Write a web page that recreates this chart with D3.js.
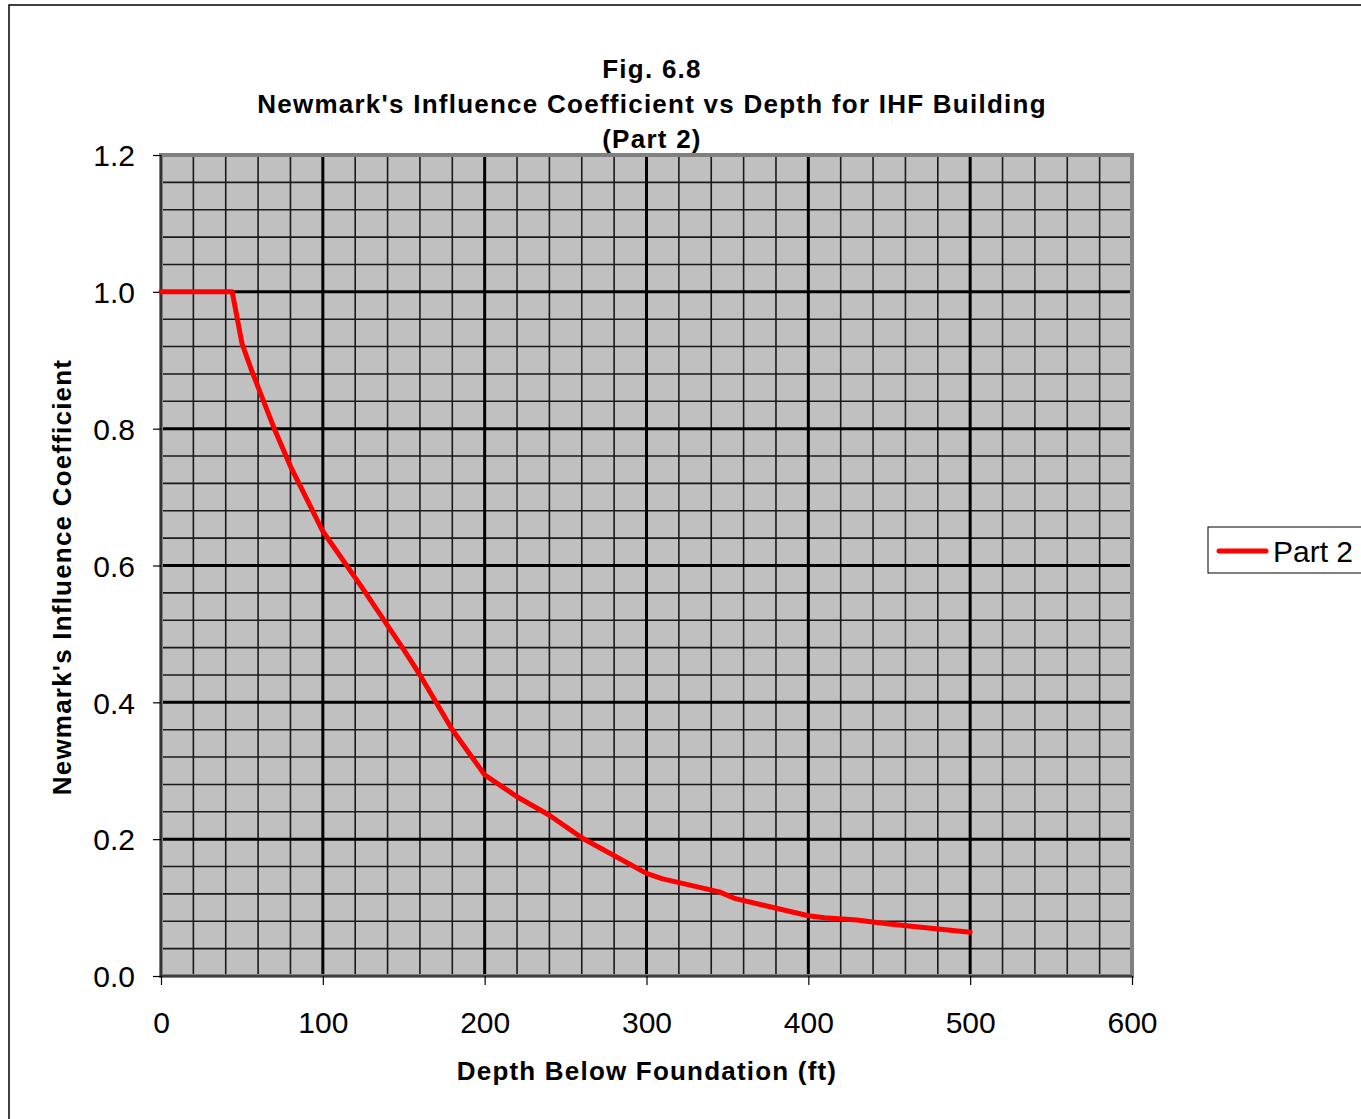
<!DOCTYPE html>
<html lang="en">
<head>
<meta charset="UTF-8">
<title>Fig. 6.8</title>
<script src="https://d3js.org/d3.v7.min.js"></script>
<style>
    body { margin: 0; background: #fff; font-family: "Liberation Sans", Arial, sans-serif; }
    svg { display: block; }
    .tick-label { font-size: 30px; fill: #000; }
    .title { font-size: 26px; font-weight: bold; letter-spacing: 1.25px; fill: #000; }
    .axis-title { font-size: 26px; font-weight: bold; letter-spacing: 1.2px; fill: #000; }
</style>
</head>
<body>
<svg id="chart" width="1361" height="1119"></svg>
<script>
// data
const depth = [0, 44, 50, 56, 70, 80, 100, 125, 150, 160, 180, 200, 220, 240, 260, 270, 300, 310, 345, 355, 400, 410, 430, 450, 500];
const coeff = [1.0, 1.0, 0.925, 0.885, 0.80, 0.745, 0.65, 0.565, 0.477, 0.44, 0.36, 0.294, 0.262, 0.235, 0.202, 0.189, 0.15, 0.142, 0.123, 0.113, 0.088, 0.085, 0.082, 0.076, 0.064];
const xTicks = [0, 100, 200, 300, 400, 500, 600];
const yTicks = [0, 0.2, 0.4, 0.6, 0.8, 1.0, 1.2];
const seriesName = 'Part 2';
const titleLines = ['Fig. 6.8', "Newmark's Influence Coefficient vs Depth for IHF Building", '(Part 2)'];

const svg = d3.select('#chart');

// outer chart frame
svg.append('rect')
    .attr('x', 9).attr('y', 5)
    .attr('width', 1400).attr('height', 1200)
    .attr('fill', '#fff').attr('stroke', '#000').attr('stroke-width', 1.5);

const plot = { left: 161, right: 1132, top: 155, bottom: 976 };

const x = d3.scaleLinear().domain([0, 600]).range([plot.left, plot.right]);
const y = d3.scaleLinear().domain([0, 1.2]).range([plot.bottom, plot.top]);

// plot background
svg.append('rect')
    .attr('x', plot.left).attr('y', plot.top)
    .attr('width', plot.right - plot.left).attr('height', plot.bottom - plot.top)
    .attr('fill', '#c0c0c0');

const grid = svg.append('g');

// minor grid
grid.selectAll('.vminor')
    .data(d3.range(0, 601, 20).filter(v => v % 100 !== 0))
    .enter().append('line')
    .attr('x1', d => x(d)).attr('x2', d => x(d))
    .attr('y1', plot.top).attr('y2', plot.bottom)
    .attr('stroke', '#1a1a1a').attr('stroke-width', 1.6);

grid.selectAll('.hminor')
    .data(d3.range(0, 31).map(i => i * 0.04).filter((v, i) => i % 5 !== 0))
    .enter().append('line')
    .attr('x1', plot.left).attr('x2', plot.right)
    .attr('y1', d => y(d)).attr('y2', d => y(d))
    .attr('stroke', '#1a1a1a').attr('stroke-width', 1.6);

// major grid
grid.selectAll('.vmajor')
    .data(xTicks.slice(1, -1))
    .enter().append('line')
    .attr('x1', d => x(d)).attr('x2', d => x(d))
    .attr('y1', plot.top).attr('y2', plot.bottom)
    .attr('stroke', '#000').attr('stroke-width', 3);

grid.selectAll('.hmajor')
    .data(yTicks.slice(1, -1))
    .enter().append('line')
    .attr('x1', plot.left).attr('x2', plot.right)
    .attr('y1', d => y(d)).attr('y2', d => y(d))
    .attr('stroke', '#000').attr('stroke-width', 3);

// plot border
svg.append('rect')
    .attr('x', plot.left).attr('y', plot.top)
    .attr('width', plot.right - plot.left).attr('height', plot.bottom - plot.top)
    .attr('fill', 'none').attr('stroke', '#808080').attr('stroke-width', 4);

// axes
const yAxis = d3.axisLeft(y).tickValues(yTicks).tickSize(8).tickFormat(d3.format('.1f'));
const xAxis = d3.axisBottom(x).tickValues(xTicks).tickSize(9).tickFormat(d3.format('d'));

const gy = svg.append('g').attr('transform', `translate(${plot.left},0)`).call(yAxis);
const gx = svg.append('g').attr('transform', `translate(0,${plot.bottom})`).call(xAxis);

[gy, gx].forEach(g => {
    g.select('.domain').attr('stroke', '#000').attr('stroke-width', 1.2);
    g.selectAll('.tick line').attr('stroke', '#000').attr('stroke-width', 1.2);
    g.selectAll('.tick text')
        .attr('class', 'tick-label')
        .attr('font-family', null).attr('font-size', null);
});
gy.selectAll('.tick text').attr('x', -26).attr('dy', '0.36em');
gx.selectAll('.tick text').attr('y', 57).attr('dy', null);
gy.select('.domain').attr('d', `M0,${plot.top}V${plot.bottom}`);
gx.select('.domain').attr('d', `M${plot.left},0H${plot.right}`);

// series line
const line = d3.line()
    .x((d, i) => x(depth[i]))
    .y((d, i) => y(coeff[i]));

svg.append('path')
    .datum(coeff)
    .attr('d', line)
    .attr('fill', 'none')
    .attr('stroke', '#ff0000')
    .attr('stroke-width', 5)
    .attr('stroke-linejoin', 'round')
    .attr('stroke-linecap', 'round');

// title
svg.selectAll('.title')
    .data(titleLines)
    .enter().append('text')
    .attr('class', 'title')
    .attr('x', 652)
    .attr('y', (d, i) => 78 + i * 35)
    .attr('text-anchor', 'middle')
    .text(d => d);

// axis titles
svg.append('text')
    .attr('class', 'axis-title')
    .attr('x', 647).attr('y', 1080)
    .attr('text-anchor', 'middle')
    .text('Depth Below Foundation (ft)');

svg.append('text')
    .attr('class', 'axis-title')
    .attr('transform', 'translate(71,577) rotate(-90)')
    .attr('text-anchor', 'middle')
    .text("Newmark's Influence Coefficient");

// legend
const legend = svg.append('g');
legend.append('rect')
    .attr('x', 1208).attr('y', 527)
    .attr('width', 200).attr('height', 46)
    .attr('fill', '#fff').attr('stroke', '#000').attr('stroke-width', 1);
legend.append('line')
    .attr('x1', 1219).attr('x2', 1266)
    .attr('y1', 551).attr('y2', 551)
    .attr('stroke', '#ff0000').attr('stroke-width', 5)
    .attr('stroke-linecap', 'round');
legend.append('text')
    .attr('class', 'tick-label')
    .attr('x', 1273).attr('y', 562)
    .text(seriesName);
</script>
</body>
</html>
